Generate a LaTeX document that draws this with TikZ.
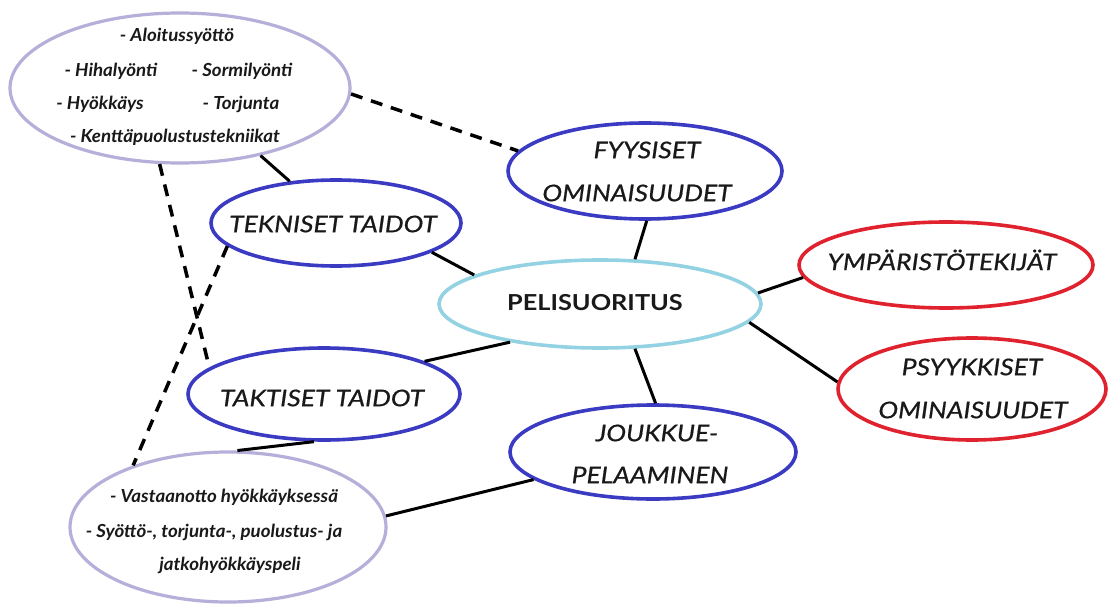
\documentclass[tikz,border=0pt]{standalone}
\usepackage{fontspec}
\setmainfont{Lato}
\newfontfamily\bigfont[FakeStretch=1.15,FakeBold=0.7]{Lato}
\newfontfamily\headfont[FakeStretch=1.15]{Lato}
\newfontfamily\smallfont[FakeStretch=1.04]{Lato}
\usetikzlibrary{shapes.geometric}
\definecolor{dblue}{HTML}{3A3AC2}
\definecolor{cred}{HTML}{E0222E}
\definecolor{lblue}{HTML}{93D2E2}
\definecolor{lav}{HTML}{B6AFDA}
\begin{document}
\begin{tikzpicture}[x=1pt,y=-1pt,
  oval/.style={ellipse,draw,inner sep=0pt,line width=3.6pt},
  blueoval/.style={oval,draw=dblue},
  redoval/.style={oval,draw=cred},
  lavoval/.style={oval,draw=lav,line width=3.2pt},
  big/.style={font=\bigfont\itshape\fontsize{23}{23}\selectfont,text=black!90,inner sep=0pt},
  small/.style={font=\smallfont\bfseries\itshape\fontsize{18}{18}\selectfont,text=black!90,inner sep=0pt},
  con/.style={line width=3pt,black},
  dcon/.style={line width=3.5pt,black,dash pattern=on 12pt off 9pt}]
\fill[white] (0,0) rectangle (1110,604);
\useasboundingbox (0,0) rectangle (1110,604);
% ellipses
\node[lavoval,minimum width=340pt,minimum height=150pt] (L1) at (180,88) {};
\node[blueoval,minimum width=250pt,minimum height=86pt] (T) at (336,223) {};
\node[blueoval,minimum width=272pt,minimum height=92pt] (K) at (324,394) {};
\node[lavoval,minimum width=316pt,minimum height=150pt] (L2) at (228,527) {};
\node[oval,draw=lblue,minimum width=322pt,minimum height=88pt] (P) at (600,304) {};
\node[blueoval,minimum width=274pt,minimum height=96pt] (F) at (645,171) {};
\node[blueoval,minimum width=286pt,minimum height=94pt] (J) at (653,452) {};
\node[redoval,minimum width=294pt,minimum height=86pt] (Y) at (946,265) {};
\node[redoval,minimum width=268pt,minimum height=102pt] (S) at (972,389) {};
% texts
\node[small] (l1a) at (177,36) {- Aloitussyöttö};
\node[small] (l1b) at (111,71) {- Hihalyönti};
\node[small] (l1c) at (242,71) {- Sormilyönti};
\node[small] (l1d) at (100,104) {- Hyökkäys};
\node[small] (l1e) at (241,104) {- Torjunta};
\node[small] (l1f) at (175,137) {- Kenttäpuolustustekniikat};
\node[small] (l2a) at (224,497) {- Vastaanotto hyökkäyksessä};
\node[small] (l2b) at (214,532) {- Syöttö-, torjunta-, puolustus- ja};
\node[small] (l2c) at (230,565) {jatkohyökkäyspeli};
\node[big] (tt) at (333,224) {TEKNISET TAIDOT};
\node[big] (kt) at (322,398) {TAKTISET TAIDOT};
\node[font=\headfont\bfseries\fontsize{22}{22}\selectfont,text=black!90,inner sep=0pt] (pt) at (595,303) {PELISUORITUS};
\node[big] (f1) at (647,150) {FYYSISET};
\node[big] (f2) at (637,193) {OMINAISUUDET};
\node[big] (yt) at (942,260) {YMPÄRISTÖTEKIJÄT};
\node[big] (s1) at (972,367) {PSYYKKISET};
\node[big] (s2) at (973,410) {OMINAISUUDET};
\node[big] (j1) at (657,433) {JOUKKUE-};
\node[big] (j2) at (650,475) {PELAAMINEN};
% connectors
\draw[con] (L1.-40) -- (T.138);
\draw[con] (T.-17) -- (P.167);
\draw[con] (K.18) -- (P.-157);
\draw[con] (K.-102) -- (L2.83);
\draw[con] (L2.4.5) -- (J.-167);
\draw[con] (P.52) -- (F.-88);
\draw[con] (P.4.5) -- (Y.-175);
\draw[con] (P.-7) -- (S.177);
\draw[con] (P.-52) -- (J.87);
\draw[dcon] (L1.-2) -- (F.171);
\draw[dcon] (L1.-105) -- (K.167);
\draw[dcon] (T.-168) -- (L2.147);
\end{tikzpicture}
\end{document}
